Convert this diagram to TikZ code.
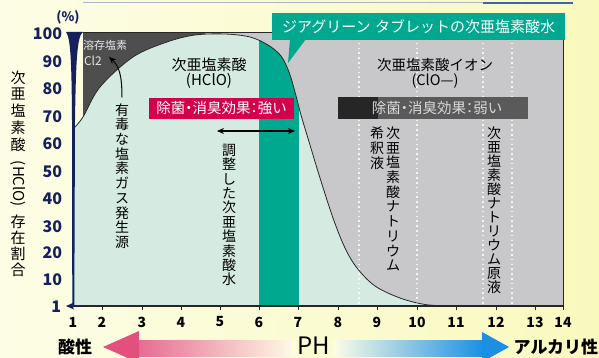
\documentclass[tikz,border=0pt]{standalone}
\usepackage{fontspec}
\setmainfont{Noto Sans CJK JP}
\usetikzlibrary{arrows.meta}
\definecolor{bgL}{HTML}{FDFDE6}
\definecolor{bgR}{HTML}{F9F9BE}
\definecolor{navy}{HTML}{16215C}
\definecolor{mint}{HTML}{D5EBE1}
\definecolor{lgray}{HTML}{C8C8CB}
\definecolor{dgray}{HTML}{4E4E4E}
\definecolor{tealc}{HTML}{00A88F}
\definecolor{crim}{HTML}{D3004C}
\definecolor{boxg}{HTML}{5A5A5A}
\definecolor{boxk}{HTML}{262626}
\definecolor{pinkc}{HTML}{E2507E}
\definecolor{bluec}{HTML}{1A8FE3}
\newcommand{\hdot}{\kern-0.25em・\kern-0.25em}
\newcommand{\hcolon}{\kern-0.25em：\kern-0.25em}
\tikzset{
  every node/.style={inner sep=0pt, outer sep=0pt},
  vert/.style 2 args={align=center, font=\fontsize{#1}{#2}\selectfont},
  ylab/.style={anchor=east, text=navy, font=\fontsize{16}{16}\selectfont\bfseries},
  xlab/.style={font=\fontsize{14}{14}\selectfont\bfseries},
  dots/.style={white, opacity=0.8, line width=1.6pt, dash pattern=on 1.6pt off 3.2pt},
}
\begin{document}
\begin{tikzpicture}[x=1pt,y=-1pt]
\useasboundingbox (0,0) rectangle (599,358);
\clip (0,0) rectangle (599,358);
\shade[left color=bgL, right color=bgR] (0,0) rectangle (599,358);
% top thin line
\draw[line width=1.8pt, color={rgb,255:red,170;green,182;blue,206}] (83,2.5) -- (483,2.5);
\draw[line width=1.2pt, color={rgb,255:red,60;green,100;blue,180}] (483,3) -- (573,3);
% regions
\fill[lgray] (83,33) rectangle (563,306);
\fill[dgray] (83,33) rectangle (205,130);
\fill[mint] plot[smooth,tension=0.55] coordinates {(74,128) (83,117) (100,87) (133,57) (167,42) (195,35) (225,34) (250,37) (268,45) (281,56) (289,72) (295,92) (301,115) (310,145) (320,178) (333,218) (345,248) (357,268) (375,286) (400,298) (425,304.5) (450,306)} -- (450,306) -- (74,306) -- cycle;
\begin{scope}
\clip plot[smooth,tension=0.55] coordinates {(74,128) (83,117) (100,87) (133,57) (167,42) (195,35) (225,34) (250,37) (268,45) (281,56) (289,72) (295,92) (301,115) (310,145) (320,178) (333,218) (345,248) (357,268) (375,286) (400,298) (425,304.5) (450,306)} -- (450,306) -- (74,306) -- cycle;
\fill[tealc] (259,30) rectangle (298.5,306);
\end{scope}
% dotted lines
\foreach \x in {359,417,483,512} \draw[dots] (\x,38) -- (\x,304);
% curve
\draw[line width=0.8pt, black!85] plot[smooth,tension=0.55] coordinates {(74,128) (83,117) (100,87) (133,57) (167,42) (195,35) (225,34) (250,37) (268,45) (281,56) (289,72) (295,92) (301,115) (310,145) (320,178) (333,218) (345,248) (357,268) (375,286) (400,298) (425,304.5) (450,306)};
% frame
\draw[line width=1pt, black!85] (83,33) -- (563,33) -- (563,306);
\draw[line width=1.6pt, black!85] (73,306) -- (563,306);
\foreach \x in {102,142,181,220,259,298,338,377,417,456,496,535,563}
  \draw[line width=1pt, black!85] (\x,306) -- (\x,310);
% y axis brush stroke
\fill[navy] (66,32) -- (83,32) .. controls (77,36) and (76,60) .. (75,120) -- (74.3,306) -- (72.3,306) -- (72,120) .. controls (71.6,60) and (70.5,38) .. (66,32) -- cycle;
\fill[navy] (66,306) -- (74,302.5) -- (72.5,306) -- (74,309.5) -- cycle;
\draw[navy, line width=1pt] (72,306) -- (82,306);
% y labels
\node[text=navy, font=\fontsize{13}{13}\selectfont\bfseries] (pct) at (68,17) {(\%)};
\node[ylab] (y100) at (62,34) {100};
\node[ylab] (y90) at (62,62) {90};
\node[ylab] (y80) at (62,89) {80};
\node[ylab] (y70) at (62,117) {70};
\node[ylab] (y60) at (62,144) {60};
\node[ylab] (y50) at (62,172) {50};
\node[ylab] (y40) at (62,199) {40};
\node[ylab] (y30) at (62,227) {30};
\node[ylab] (y20) at (62,253) {20};
\node[ylab] (y10) at (62,280) {10};
\node[ylab] (y1) at (61,307) {1};
% x labels
\foreach \x/\t [count=\i] in {73/1,102/2,142/3,181/4,220/5,259/6,298/7,338/8,377/9,417/10,456/11,496/12,535/13,563/14}
  \node[xlab] (x\i) at (\x,322) {\t};
% y title
\node[vert={15}{16.8}, anchor=center] (yt1) at (18,111) {次\\亜\\塩\\素\\酸};
\node[rotate=-90, font=\fontsize{15}{15}\selectfont] (yt2) at (18,184) {(HClO)};
\node[vert={15}{15.8}, anchor=center] (yt3) at (18,246) {存\\在\\割\\合};
% Cl2 area
\node[anchor=west, text=black!10, font=\fontsize{11}{11}\selectfont] (dissolved) at (83,45) {溶存塩素};
\node[anchor=west, text=black!10, font=\fontsize{12}{12}\selectfont] (cl2) at (84,61) {Cl2};
\node[vert={14}{14.7}] (toxic) at (122,176) {有\\毒\\な\\塩\\素\\ガ\\ス\\発\\生\\源};
\coordinate (cltip) at (109,57);
\draw[-{Stealth[length=7pt,width=6pt]}, line width=1pt] (toxic.north) ++(0,-6) .. controls (122,75) and (119,66) .. (cltip);
% HClO
\node[font=\fontsize{15}{15}\selectfont] (hclo1) at (209,65) {次亜塩素酸};
\node[font=\fontsize{15}{15}\selectfont] (hclo2) at (209,81) {(HClO)};
\node[fill=crim, text=white, minimum width=145pt, minimum height=21pt, font=\fontsize{14.5}{14.5}\selectfont] (strong) at (221.5,108.5) {除菌\hdot 消臭効果\hcolon 強い};
\coordinate (adjL) at (217,131);
\coordinate (adjR) at (295,131);
\draw[{Stealth[length=7pt,width=6pt]}-{Stealth[length=7pt,width=6pt]}, line width=1.2pt] (adjL) -- (adjR);
\node[vert={14}{14.4}] (adjusted) at (229,215) {調\\整\\し\\た\\次\\亜\\塩\\素\\酸\\水};
% callout
\node[fill=tealc, text=white, anchor=north west, minimum width=293pt, minimum height=27pt, font=\fontsize{15}{15}\selectfont] (callout) at (272,13) {ジアグリーン\hspace{0.3em}タブレットの次亜塩素酸水};
\fill[tealc] (290,39) -- (306,39) -- (288,63) -- cycle;
% ClO-
\node[font=\fontsize{14.5}{14.5}\selectfont] (clo1) at (435,65) {次亜塩素酸イオン};
\node[font=\fontsize{14.5}{14.5}\selectfont] (clo2) at (435,81) {(ClO—)};
\fill[boxk] (338,97) rectangle (378,119);
\node[fill=boxg, anchor=west, minimum width=150pt, minimum height=22pt] (weakbox) at (378,108) {};
\node[text=black!15, font=\fontsize{14.5}{14.5}\selectfont] (weak) at (437,108) {除菌\hdot 消臭効果\hcolon 弱い};
\node[vert={14}{15}] (dilute) at (377,148) {希\\釈\\液};
\node[vert={14}{14.7}] (sodium) at (393,199) {次\\亜\\塩\\素\\酸\\ナ\\ト\\リ\\ウ\\ム};
\node[vert={14}{14}] (stock) at (494,210) {次\\亜\\塩\\素\\酸\\ナ\\ト\\リ\\ウ\\ム\\原\\液};
% bottom arrows
\shade[left color=pinkc!85, middle color=pinkc!40, right color=bgL] (137,340) rectangle (295,356);
\fill[pinkc] (103,347) -- (139,331) -- (139,363) -- cycle;
\shade[left color=bgL, right color=bluec] (333,340) rectangle (484,356);
\fill[bluec] (482,332) -- (509,347) -- (482,362) -- cycle;
\node[font=\fontsize{17}{17}\selectfont\bfseries] (acid) at (75,347) {酸性};
\node[font=\fontsize{24}{24}\selectfont] (ph) at (314,346) {PH};
\node[anchor=east, font=\fontsize{17}{17}\selectfont\bfseries] (alk) at (598,347) {アルカリ性};
\end{tikzpicture}
\end{document}
